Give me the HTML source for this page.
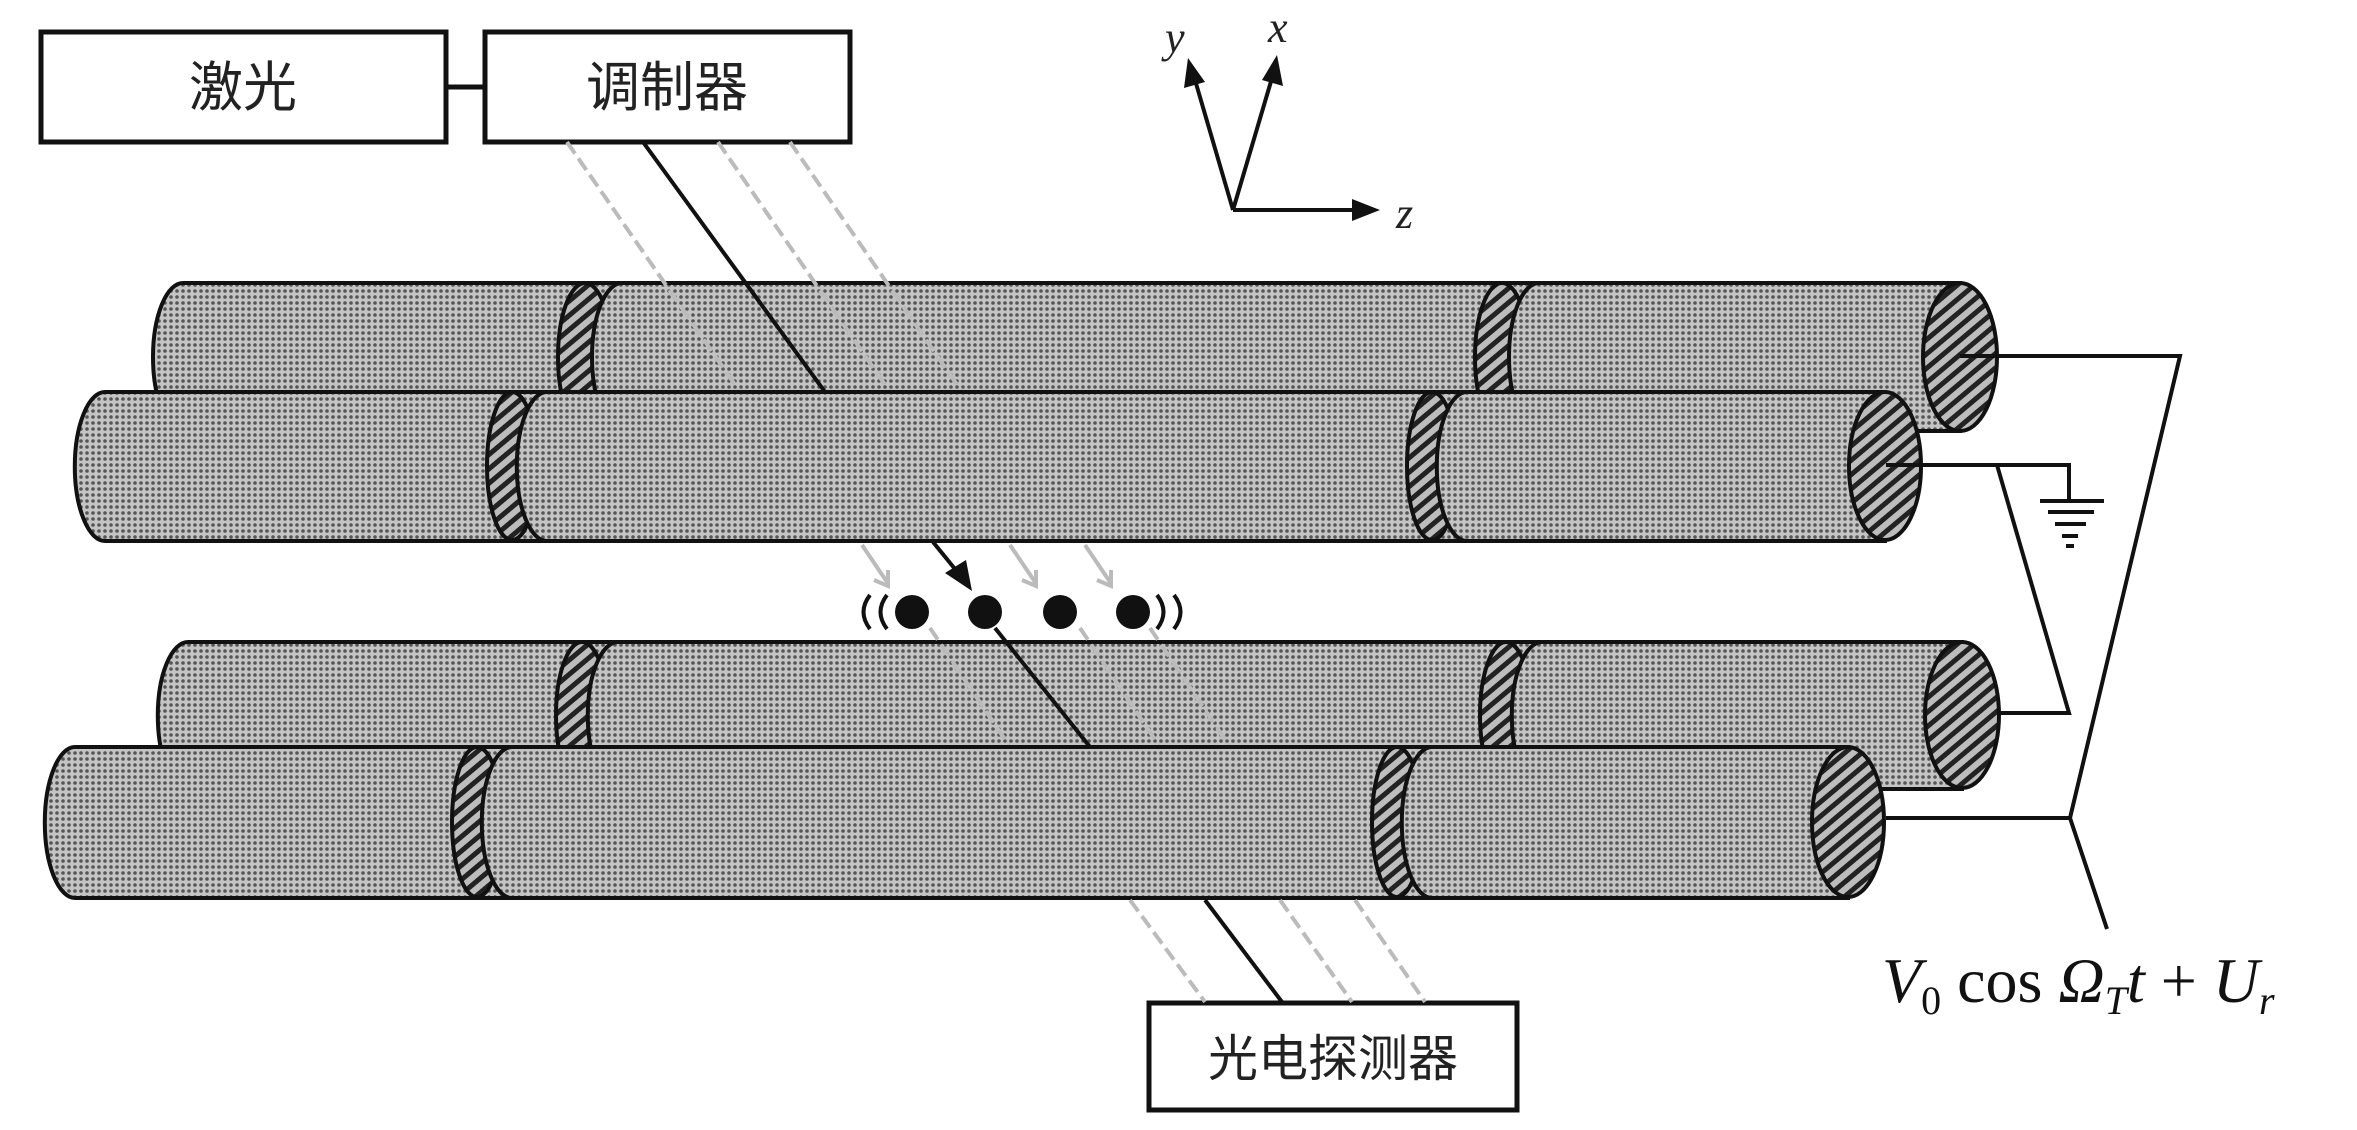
<!DOCTYPE html>
<html><head><meta charset="utf-8"><style>html,body{margin:0;padding:0;background:#fff}svg{display:block}</style></head>
<body>
<svg width="2357" height="1130" viewBox="0 0 2357 1130" xmlns="http://www.w3.org/2000/svg">
<defs>
<pattern id="dots" width="6" height="6" patternUnits="userSpaceOnUse">
<rect width="6" height="6" fill="#c4c4c4"/>
<circle cx="3" cy="3" r="1.8" fill="#555"/>
</pattern>
<pattern id="hatch" width="11" height="11" patternUnits="userSpaceOnUse" patternTransform="rotate(-40)">
<rect width="11" height="11" fill="#bdbdbd"/>
<rect width="11" height="5" fill="#222"/>
</pattern>
</defs>

<g font-family="'Liberation Sans','Noto Sans CJK SC',sans-serif" font-size="54" fill="#222" text-anchor="middle">
<rect x="41" y="32" width="405" height="110" fill="#fff" stroke="#111" stroke-width="5"/>
<text x="243" y="106">激光</text>
<rect x="485" y="32" width="365" height="110" fill="#fff" stroke="#111" stroke-width="5"/>
<text x="667" y="106">调制器</text>
<line x1="446" y1="87" x2="485" y2="87" stroke="#111" stroke-width="5"/>
<rect x="1149" y="1003" width="368" height="107" fill="#fff" stroke="#111" stroke-width="5"/>
<text x="1333" y="1076" font-size="50">光电探测器</text>
</g>

<g stroke="#111" stroke-width="4" fill="#111">
<line x1="1233" y1="210" x2="1360" y2="210"/>
<polygon points="1380,210 1352,199 1352,221" stroke="none"/>
<line x1="1233" y1="210" x2="1195" y2="80"/>
<polygon points="1188,58 1184,88 1205,82" stroke="none"/>
<line x1="1233" y1="210" x2="1272" y2="78"/>
<polygon points="1277,55 1262,80 1283,86" stroke="none"/>
</g>
<g font-family="'Liberation Serif',serif" font-style="italic" font-size="44" fill="#222">
<text x="1165" y="52">y</text>
<text x="1268" y="42">x</text>
<text x="1396" y="228">z</text>
</g>

<g stroke="#111" stroke-width="4">
<path d="M183,283 L1960,283 L1960,431 L183,431 A30,74 0 0 1 183,283Z" fill="url(#dots)"/>
<ellipse cx="585" cy="357" rx="27" ry="74" fill="url(#hatch)"/>
<path d="M622,283 L1502,283 L1502,431 L622,431 A30,74 0 0 1 622,283Z" fill="url(#dots)"/>
<ellipse cx="1502" cy="357" rx="27" ry="74" fill="url(#hatch)"/>
<path d="M1539,283 L1960,283 L1960,431 L1539,431 A30,74 0 0 1 1539,283Z" fill="url(#dots)"/>
<ellipse cx="1960" cy="357" rx="37" ry="74" fill="url(#hatch)"/>
</g>
<g stroke="#bbb" stroke-width="4" stroke-dasharray="14,6">
<line x1="567" y1="142" x2="740" y2="392"/>
<line x1="718" y1="142" x2="890" y2="392"/>
<line x1="790" y1="142" x2="962" y2="392"/>
</g>
<line x1="643" y1="142" x2="825" y2="392" stroke="#111" stroke-width="4"/>
<g stroke="#111" stroke-width="4">
<path d="M105,392 L1885,392 L1885,541 L105,541 A30,74 0 0 1 105,392Z" fill="url(#dots)"/>
<ellipse cx="512" cy="466" rx="25" ry="74" fill="url(#hatch)"/>
<path d="M547,392 L1432,392 L1432,541 L547,541 A30,74 0 0 1 547,392Z" fill="url(#dots)"/>
<ellipse cx="1432" cy="466" rx="25" ry="74" fill="url(#hatch)"/>
<path d="M1467,392 L1885,392 L1885,541 L1467,541 A30,74 0 0 1 1467,392Z" fill="url(#dots)"/>
<ellipse cx="1885" cy="466" rx="36" ry="74" fill="url(#hatch)"/>
</g>

<g stroke="#111" stroke-width="4">
<path d="M188,642 L1962,642 L1962,789 L188,789 A30,73 0 0 1 188,642Z" fill="url(#dots)"/>
<ellipse cx="582" cy="715" rx="26" ry="73" fill="url(#hatch)"/>
<path d="M618,642 L1506,642 L1506,789 L618,789 A30,73 0 0 1 618,642Z" fill="url(#dots)"/>
<ellipse cx="1506" cy="715" rx="26" ry="73" fill="url(#hatch)"/>
<path d="M1542,642 L1962,642 L1962,789 L1542,789 A30,73 0 0 1 1542,642Z" fill="url(#dots)"/>
<ellipse cx="1962" cy="715" rx="37" ry="73" fill="url(#hatch)"/>
</g>
<g stroke="#bbb" stroke-width="4" stroke-dasharray="14,6">
<line x1="930" y1="628" x2="1010" y2="747"/>
<line x1="1080" y1="628" x2="1160" y2="747"/>
<line x1="1150" y1="628" x2="1230" y2="747"/>
</g>
<line x1="995" y1="628" x2="1090" y2="747" stroke="#111" stroke-width="4"/>
<g stroke="#111" stroke-width="4">
<path d="M75,747 L1848,747 L1848,898 L75,898 A30,75 0 0 1 75,747Z" fill="url(#dots)"/>
<ellipse cx="477" cy="822" rx="25" ry="75" fill="url(#hatch)"/>
<path d="M512,747 L1397,747 L1397,898 L512,898 A30,75 0 0 1 512,747Z" fill="url(#dots)"/>
<ellipse cx="1397" cy="822" rx="25" ry="75" fill="url(#hatch)"/>
<path d="M1432,747 L1848,747 L1848,898 L1432,898 A30,75 0 0 1 1432,747Z" fill="url(#dots)"/>
<ellipse cx="1848" cy="822" rx="36" ry="75" fill="url(#hatch)"/>
</g>

<g stroke="#bbb" stroke-width="4" stroke-dasharray="14,6">
<line x1="1130" y1="900" x2="1205" y2="1002"/>
<line x1="1280" y1="900" x2="1352" y2="1002"/>
<line x1="1355" y1="900" x2="1425" y2="1002"/>
</g>
<line x1="1205" y1="900" x2="1282" y2="1002" stroke="#111" stroke-width="4"/>

<g stroke="#bbb" stroke-width="4" fill="none">
<line x1="862" y1="545" x2="887" y2="582"/><polyline points="874,580 888,586 888,570"/>
<line x1="1010" y1="545" x2="1035" y2="582"/><polyline points="1022,580 1036,586 1036,570"/>
<line x1="1085" y1="545" x2="1110" y2="582"/><polyline points="1097,580 1111,586 1111,570"/>
</g>
<line x1="933" y1="542" x2="968" y2="585" stroke="#111" stroke-width="4"/>
<polygon points="972,591 945,573 966,560" fill="#111"/>

<g fill="#111">
<circle cx="912" cy="612" r="17"/>
<circle cx="985" cy="612" r="17"/>
<circle cx="1060" cy="612" r="17"/>
<circle cx="1133" cy="612" r="17"/>
</g>
<g stroke="#111" stroke-width="4" fill="none">
<path d="M870,595 Q857,612 870,629"/>
<path d="M887,595 Q874,612 887,629"/>
<path d="M1157,595 Q1170,612 1157,629"/>
<path d="M1174,595 Q1187,612 1174,629"/>
</g>

<g stroke="#111" stroke-width="4" fill="none">
<polyline points="1960,356 2180,356 2070,818"/>
<polyline points="1886,465 2069,465 2069,500"/>
<polyline points="1997,465 2069,713 1997,713"/>
<polyline points="1886,818 2070,818 2107,929"/>
<line x1="2040" y1="501" x2="2104" y2="501"/>
<line x1="2048" y1="512" x2="2094" y2="512"/>
<line x1="2055" y1="524" x2="2086" y2="524"/>
<line x1="2062" y1="536" x2="2078" y2="536"/>
<line x1="2066" y1="546" x2="2074" y2="546"/>
</g>
<text x="1882" y="1002" font-family="'Liberation Serif',serif" font-size="64" fill="#111"><tspan font-style="italic">V</tspan><tspan font-size="40" dy="12">0</tspan><tspan dy="-12"> cos </tspan><tspan font-style="italic">Ω</tspan><tspan font-style="italic" font-size="40" dy="12">T</tspan><tspan font-style="italic" dy="-12">t</tspan><tspan> + </tspan><tspan font-style="italic">U</tspan><tspan font-style="italic" font-size="40" dy="12">r</tspan></text>
</svg>
</body></html>
